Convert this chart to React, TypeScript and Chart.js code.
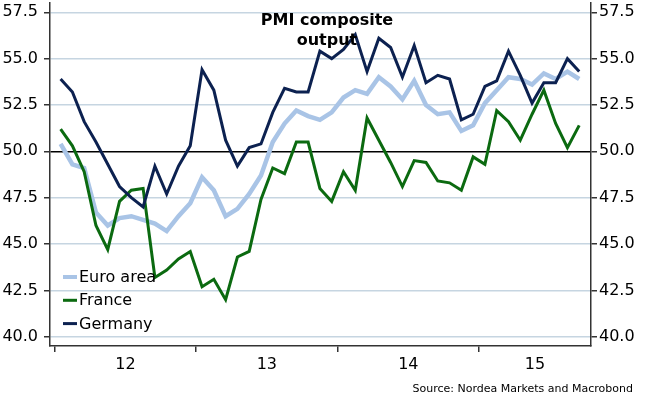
import React, { useEffect, useRef } from "react";
import { Chart, registerables } from "chart.js";

Chart.register(...registerables);

// Monthly PMI composite output, Jan 2012 .. Sep 2015
const euroArea = [
  50.4, 49.3, 49.1, 46.7, 46.0, 46.4, 46.5, 46.3, 46.1, 45.7, 46.5, 47.2,
  48.6, 47.9, 46.5, 46.9, 47.7, 48.7, 50.5, 51.5, 52.2, 51.9, 51.7, 52.1,
  52.9, 53.3, 53.1, 54.0, 53.5, 52.8, 53.8, 52.5, 52.0, 52.1, 51.1, 51.4,
  52.6, 53.3, 54.0, 53.9, 53.6, 54.2, 53.9, 54.3, 53.9,
];
const france = [
  51.2, 50.3, 48.9, 46.0, 44.7, 47.3, 47.9, 48.0, 43.2, 43.6, 44.2, 44.6,
  42.7, 43.1, 42.0, 44.3, 44.6, 47.4, 49.1, 48.8, 50.5, 50.5, 48.0, 47.3,
  48.9, 47.9, 51.8, 50.6, 49.4, 48.1, 49.5, 49.4, 48.4, 48.3, 47.9, 49.7,
  49.3, 52.2, 51.6, 50.6, 52.0, 53.3, 51.5, 50.2, 51.4,
];
const germany = [
  53.9, 53.2, 51.6, 50.5, 49.3, 48.1, 47.5, 47.0, 49.2, 47.7, 49.2, 50.3,
  54.4, 53.3, 50.6, 49.2, 50.2, 50.4, 52.1, 53.4, 53.2, 53.2, 55.4, 55.0,
  55.5, 56.3, 54.3, 56.1, 55.6, 54.0, 55.7, 53.7, 54.1, 53.9, 51.7, 52.0,
  53.5, 53.8, 55.4, 54.1, 52.6, 53.7, 53.7, 55.0, 54.3,
];
const seriesNames = ["Euro area", "France", "Germany"];
const yearLabels = ["12", "13", "14", "15"];
const yTickValues = [40.0, 42.5, 45.0, 47.5, 50.0, 52.5, 55.0, 57.5];
const titleLines = ["PMI composite", "output"];
const sourceText = "Source: Nordea Markets and Macrobond";

const COLORS = ["#a9c4e6", "#0b6a10", "#0c2150"];
const WIDTHS = [4.5, 3, 3];
const X_MIN = -0.4;
const X_MAX = 45.5;
const FONT = "'DejaVu Sans', Verdana, sans-serif";

const toPoints = (vals: number[]) => vals.map((v, i) => ({ x: i + 0.5, y: v }));

const yearBoundaries = yearLabels.map((_, i) => i * 12);
const yearMids = yearLabels.map((_, i) => {
  const s = i * 12;
  const e = Math.min((i + 1) * 12, X_MAX);
  return (s + e) / 2;
});

const overlayPlugin = {
  id: "overlay",
  afterDraw(chart: any) {
    const ctx = chart.ctx;
    const ca = chart.chartArea;
    ctx.save();
    // title
    ctx.fillStyle = "#000";
    ctx.font = `bold 16px ${FONT}`;
    ctx.textAlign = "center";
    ctx.textBaseline = "middle";
    titleLines.forEach((t, i) => ctx.fillText(t, 327, 21 + i * 20));
    // legend
    ctx.font = `16px ${FONT}`;
    ctx.textAlign = "left";
    seriesNames.forEach((name, i) => {
      const y = ca.top + 274 + i * 23.3;
      ctx.strokeStyle = COLORS[i];
      ctx.lineWidth = i === 0 ? 4 : 3;
      ctx.beginPath();
      ctx.moveTo(ca.left + 13, y);
      ctx.lineTo(ca.left + 27, y);
      ctx.stroke();
      ctx.fillStyle = "#000";
      ctx.fillText(name, ca.left + 29, y + 1);
    });
    // source
    ctx.font = `11px ${FONT}`;
    ctx.textAlign = "right";
    ctx.fillStyle = "#000";
    ctx.fillText(sourceText, 633, 389);
    ctx.restore();
  },
};

const zeroVerticalPadding = (scale: any) => {
  scale.paddingTop = 0;
  scale.paddingBottom = 0;
};

export default function App() {
  const ref = useRef<HTMLCanvasElement>(null);
  useEffect(() => {
    const canvas = ref.current!;
    const data = [euroArea, france, germany];
    const chart = new Chart(canvas, {
      type: "line",
      data: {
        datasets: data.map((d, i) => ({
          label: seriesNames[i],
          data: toPoints(d),
          borderColor: COLORS[i],
          backgroundColor: COLORS[i],
          borderWidth: WIDTHS[i],
          pointRadius: 0,
          tension: 0,
          order: 3 - i,
          borderJoinStyle: "miter" as const,
        })),
      },
      options: {
        animation: false,
        responsive: false,
        devicePixelRatio: 1,
        layout: { padding: { left: 0, right: 0, top: 3, bottom: 0 } },
        plugins: { legend: { display: false }, tooltip: { enabled: false }, title: { display: false } },
        scales: {
          x: {
            type: "linear",
            min: X_MIN,
            max: X_MAX,
            afterBuildTicks: (scale: any) => {
              const vals = [...yearBoundaries, ...yearMids].sort((a, b) => a - b);
              scale.ticks = vals.map((v) => ({ value: v }));
            },
            afterFit: (scale: any) => {
              scale.height = 52;
              scale.paddingLeft = 0;
              scale.paddingRight = 0;
            },
            ticks: {
              autoSkip: false,
              maxRotation: 0,
              padding: 3,
              color: "#000",
              font: { family: FONT, size: 16 },
              callback: (v: any) => {
                const idx = yearMids.indexOf(Number(v));
                return idx >= 0 ? yearLabels[idx] : "";
              },
            },
            grid: {
              drawOnChartArea: false,
              tickLength: 6,
              lineWidth: 1.5,
              tickColor: (c: any) =>
                c.tick && yearBoundaries.includes(c.tick.value) ? "#333" : "rgba(0,0,0,0)",
            },
            border: { display: true, color: "#333", width: 1.5 },
          },
          y: {
            position: "left",
            min: 39.5,
            max: 58.0,
            afterBuildTicks: (scale: any) => {
              scale.ticks = yTickValues.map((v) => ({ value: v }));
            },
            afterFit: (scale: any) => {
              scale.width = 50;
              zeroVerticalPadding(scale);
            },
            ticks: {
              padding: 6,
              color: "#000",
              font: { family: FONT, size: 16 },
              callback: (v: any) => Number(v).toFixed(1),
            },
            grid: {
              drawOnChartArea: true,
              tickLength: 6,
              color: (c: any) => (c.tick && c.tick.value === 50 ? "#000" : "#c6d5e1"),
              lineWidth: 1.5,
              tickColor: "#333",
            },
            border: { display: true, color: "#333", width: 1.5 },
          },
          y2: {
            position: "right",
            min: 39.5,
            max: 58.0,
            afterBuildTicks: (scale: any) => {
              scale.ticks = yTickValues.map((v) => ({ value: v }));
            },
            afterFit: (scale: any) => {
              scale.width = 55;
              zeroVerticalPadding(scale);
            },
            ticks: {
              padding: 2,
              color: "#000",
              font: { family: FONT, size: 16 },
              callback: (v: any) => Number(v).toFixed(1),
            },
            grid: {
              drawOnChartArea: false,
              tickLength: 6,
              tickColor: "#333",
              lineWidth: 1.5,
            },
            border: { display: true, color: "#333", width: 1.5 },
          },
        },
      },
      plugins: [overlayPlugin],
    } as any);
    return () => chart.destroy();
  }, []);
  return (
    <div style={{ position: "absolute", left: 0, top: 0, width: 646, height: 398, background: "#fff" }}>
      <canvas ref={ref} width={646} height={398} style={{ width: 646, height: 398, display: "block" }} />
    </div>
  );
}
